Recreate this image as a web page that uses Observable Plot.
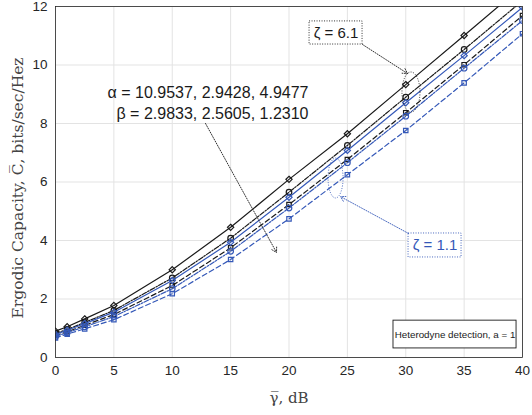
<!DOCTYPE html>
<html><head><meta charset="utf-8">
<script src="https://cdn.jsdelivr.net/npm/d3@7"></script>
<script src="https://cdn.jsdelivr.net/npm/@observablehq/plot@0.6"></script>
<style>
body{margin:0;background:#fff}
#chart svg{font-family:"Liberation Sans",Arial,sans-serif}
</style>
</head><body><div id="chart"></div>
<script>
// x values: average SNR (dB)
const snrDb = [0, 1, 2.5, 5, 10, 15, 20, 25, 30, 35, 40];
// zeta = 6.1 (black), three (alpha, beta) sets
const z61_set1 = [0.90, 1.05, 1.32, 1.78, 3.00, 4.45, 6.09, 7.65, 9.33, 11.01, 12.70];
const z61_set2 = [0.82, 0.96, 1.20, 1.61, 2.72, 4.08, 5.65, 7.25, 8.90, 10.53, 12.20];
const z61_set3 = [0.75, 0.88, 1.10, 1.47, 2.46, 3.75, 5.23, 6.77, 8.37, 10.01, 11.69];
// zeta = 1.1 (blue)
const z11_set1 = [0.79, 0.93, 1.16, 1.55, 2.63, 3.94, 5.48, 7.08, 8.71, 10.32, 11.97];
const z11_set2 = [0.72, 0.85, 1.05, 1.40, 2.35, 3.63, 5.11, 6.66, 8.25, 9.89, 11.52];
const z11_set3 = [0.67, 0.80, 0.98, 1.29, 2.18, 3.35, 4.74, 6.25, 7.76, 9.39, 11.07];
const xTicks = [0, 5, 10, 15, 20, 25, 30, 35, 40];
const yTicks = [0, 2, 4, 6, 8, 10, 12];

const BLACK = "#1a1a1a", BLUE = "#3458b8";
const series = [
  {key: "z61_1", values: z61_set1, color: BLACK, dash: null, symbol: "diamond2"},
  {key: "z61_2", values: z61_set2, color: BLACK, dash: "5,1.5,1.5,1.5", symbol: "circle"},
  {key: "z61_3", values: z61_set3, color: BLACK, dash: "5,3", symbol: "square2"},
  {key: "z11_1", values: z11_set1, color: BLUE, dash: null, symbol: "diamond2"},
  {key: "z11_2", values: z11_set2, color: BLUE, dash: "5,1.5,1.5,1.5", symbol: "circle"},
  {key: "z11_3", values: z11_set3, color: BLUE, dash: "5,3", symbol: "square2"}
];

const marks = [
  Plot.gridX(xTicks, {stroke: "#e3e3e3", strokeOpacity: 1}),
  Plot.gridY(yTicks, {stroke: "#e3e3e3", strokeOpacity: 1}),
];
for (const s of series) {
  const rows = snrDb.map((x, i) => ({x, y: s.values[i]}));
  marks.push(Plot.line(rows, {x: "x", y: "y", stroke: s.color, strokeWidth: 1.2, strokeDasharray: s.dash, clip: true}));
  marks.push(Plot.dot(rows.filter(d => d.y <= 12.05), {x: "x", y: "y", stroke: s.color, fill: "none", symbol: s.symbol, r: 2.8, strokeWidth: 1.2, clip: true}));
}
marks.push(
  Plot.axisX(xTicks, {tickSize: 0, tickPadding: 8, fontSize: 13.5, color: "#262626", label: null}),
  Plot.axisY(yTicks, {tickSize: 0, tickPadding: 8, fontSize: 13.5, color: "#262626", label: null}),
  Plot.frame({stroke: "#262626", strokeWidth: 0.8}),
  // zeta = 6.1 annotation
  Plot.rect([{x1: 21.76, x2: 26.30, y1: 10.70, y2: 11.49}], {x1: "x1", x2: "x2", y1: "y1", y2: "y2", fill: "white", stroke: BLACK, strokeDasharray: "1,1.5", strokeWidth: 0.9}),
  Plot.text(["ζ = 6.1"], {x: 24.03, y: 11.09, fontSize: 15, fill: BLACK}),
  Plot.arrow([{x1: 26.30, y1: 10.70, x2: 30.15, y2: 9.71}], {x1: "x1", y1: "y1", x2: "x2", y2: "y2", stroke: BLACK, strokeDasharray: "1,1.5", strokeWidth: 0.9, headLength: 9}),
  // zeta = 1.1 annotation
  Plot.rect([{x1: 30.24, x2: 34.78, y1: 3.42, y2: 4.24}], {x1: "x1", x2: "x2", y1: "y1", y2: "y2", fill: "white", stroke: BLUE, strokeDasharray: "1,1.5", strokeWidth: 0.9}),
  Plot.text(["ζ = 1.1"], {x: 32.51, y: 3.83, fontSize: 15, fill: BLUE}),
  Plot.arrow([{x1: 30.24, y1: 4.24, x2: 24.41, y2: 5.50}], {x1: "x1", y1: "y1", x2: "x2", y2: "y2", stroke: BLUE, strokeDasharray: "1,1.5", strokeWidth: 0.9, headLength: 9}),
  // alpha/beta annotation
  Plot.text(["α = 10.9537, 2.9428, 4.9477"], {x: 21.67, y: 9.03, textAnchor: "end", fontSize: 16, fill: BLACK}),
  Plot.text(["β = 2.9833, 2.5605, 1.2310"], {x: 21.67, y: 8.34, textAnchor: "end", fontSize: 16, fill: BLACK}),
  Plot.arrow([{x1: 12.85, y1: 8.0, x2: 18.93, y2: 3.59}], {x1: "x1", y1: "y1", x2: "x2", y2: "y2", stroke: BLACK, strokeDasharray: "1,1.5", strokeWidth: 0.9, headLength: 9}),
  // detection box
  Plot.rect([{x1: 28.95, x2: 39.49, y1: 0.31, y2: 1.26}], {x1: "x1", x2: "x2", y1: "y1", y2: "y2", fill: "white", stroke: BLACK, strokeWidth: 0.9}),
  Plot.text(["Heterodyne detection, a = 1"], {x: 34.22, y: 0.79, fontSize: 9.8, fill: BLACK}),
  // axis labels
  Plot.text(["Ergodic Capacity, C\u0305, bits/sec/Hez"], {frameAnchor: "left", textAnchor: "middle", dx: -37, dy: 6, rotate: -90, fontSize: 15.5, fontFamily: "DejaVu Serif, serif", fill: "#444"}),
  Plot.text(["\u03b3\u0305, dB"], {frameAnchor: "bottom", dy: 45, fontSize: 15, fontFamily: "DejaVu Serif, serif", fill: "#444"})
);

const chart = Plot.plot({
  width: 532, height: 415,
  marginLeft: 55, marginRight: 10, marginTop: 6, marginBottom: 58,
  x: {domain: [0, 40]},
  y: {domain: [0, 12]},
  style: {background: "white", overflow: "visible"},
  marks
});
document.getElementById("chart").appendChild(chart);

// dotted ellipses grouping the curves (placed in data coordinates via the plot's scales)
const sx = chart.scale("x"), sy = chart.scale("y");
const svg = d3.select(chart);
const ellipses = [
  {cx: 30.49, cy: 9.06, rx: 9, ry: 20, color: BLACK},
  {cx: 24.03, cy: 6.12, rx: 7.5, ry: 20, color: BLUE}
];
for (const e of ellipses) {
  svg.append("ellipse")
    .attr("cx", sx.apply(e.cx)).attr("cy", sy.apply(e.cy))
    .attr("rx", e.rx).attr("ry", e.ry)
    .attr("fill", "none").attr("stroke", e.color)
    .attr("stroke-width", 0.9).attr("stroke-dasharray", "1,1.5");
}
</script>
</body></html>
